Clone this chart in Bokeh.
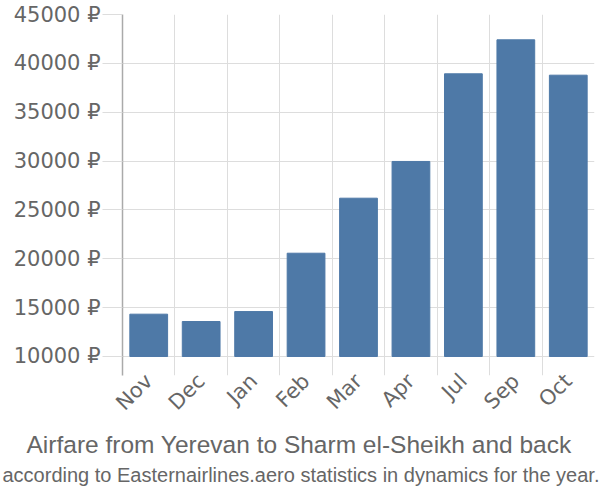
from bokeh.plotting import figure
from bokeh.models import Range1d, FixedTicker, Title, LinearAxis
from bokeh.embed import file_html
from bokeh.resources import INLINE

months = ["Nov", "Dec", "Jan", "Feb", "Mar", "Apr", "Jul", "Sep", "Oct"]
prices = [14330, 13580, 14600, 20570, 26200, 29960, 38930, 42410, 38790]
y_ticks = [10000, 15000, 20000, 25000, 30000, 35000, 40000, 45000]
y_labels = {t: f"{t} ₽" for t in y_ticks}
title_text = "Airfare from Yerevan to Sharm el-Sheikh and back"
subtitle_text = "according to Easternairlines.aero statistics in dynamics for the year."

TICK_FONT = "DejaVu Sans"
TITLE_FONT = "Liberation Sans"
SUB_FONT = "Liberation Sans"
TXT = "#666666"
GRID = "#dddddd"

n = len(months)
centers = [i + 0.5 for i in range(n)]
baseline = y_ticks[0]

p = figure(width=600, height=500, output_backend="svg", toolbar_location=None,
           x_range=Range1d(0, n), y_range=Range1d(8055, 45000),
           x_axis_location=None, y_axis_location=None,
           min_border_left=122, min_border_right=6, min_border_top=14,
           min_border_bottom=125)
p.outline_line_color = None
p.background_fill_color = "white"
p.border_fill_color = "white"

p.vbar(x=centers, top=prices, bottom=baseline, width=0.72,
       fill_color="#4e79a7", line_color="#4e79a7", line_width=1)

# y axis
yax = LinearAxis(ticker=FixedTicker(ticks=y_ticks))
yax.major_label_overrides = y_labels
yax.axis_line_color = "#aaaaaa"
yax.axis_line_width = 1.5
yax.major_tick_line_color = GRID
yax.major_tick_out = 20
yax.major_tick_in = 0
yax.minor_tick_line_color = None
yax.major_label_standoff = 2
yax.major_label_text_font = TICK_FONT
yax.major_label_text_font_size = "21px"
yax.major_label_text_color = TXT
p.add_layout(yax, "left")

# x axis (labels only)
xax = LinearAxis(ticker=FixedTicker(ticks=centers))
xax.major_label_overrides = {c: m for c, m in zip(centers, months)}
xax.axis_line_color = None
xax.major_tick_line_color = None
xax.minor_tick_line_color = None
xax.major_label_orientation = 0.785398
xax.major_label_standoff = -4
xax.major_label_text_font = TICK_FONT
xax.major_label_text_font_size = "21px"
xax.major_label_text_color = TXT
p.add_layout(xax, "below")

# grids
p.ygrid.ticker = FixedTicker(ticks=y_ticks)
p.xgrid.ticker = FixedTicker(ticks=list(range(n + 1)))
p.ygrid.grid_line_color = GRID
p.xgrid.grid_line_color = GRID
p.ygrid.grid_line_width = 1
p.xgrid.grid_line_width = 1

t1 = Title(text=title_text, align="left", text_font=TITLE_FONT, text_font_size="24.5px",
           text_color=TXT, text_font_style="normal", standoff=5, offset=-96)
t2 = Title(text=subtitle_text, align="left", text_font=SUB_FONT, text_font_size="20px",
           text_color=TXT, text_font_style="normal", standoff=2, offset=-120)
p.add_layout(t1, "below")
p.add_layout(t2, "below")

open("out.html", "w").write(file_html(p, INLINE))
